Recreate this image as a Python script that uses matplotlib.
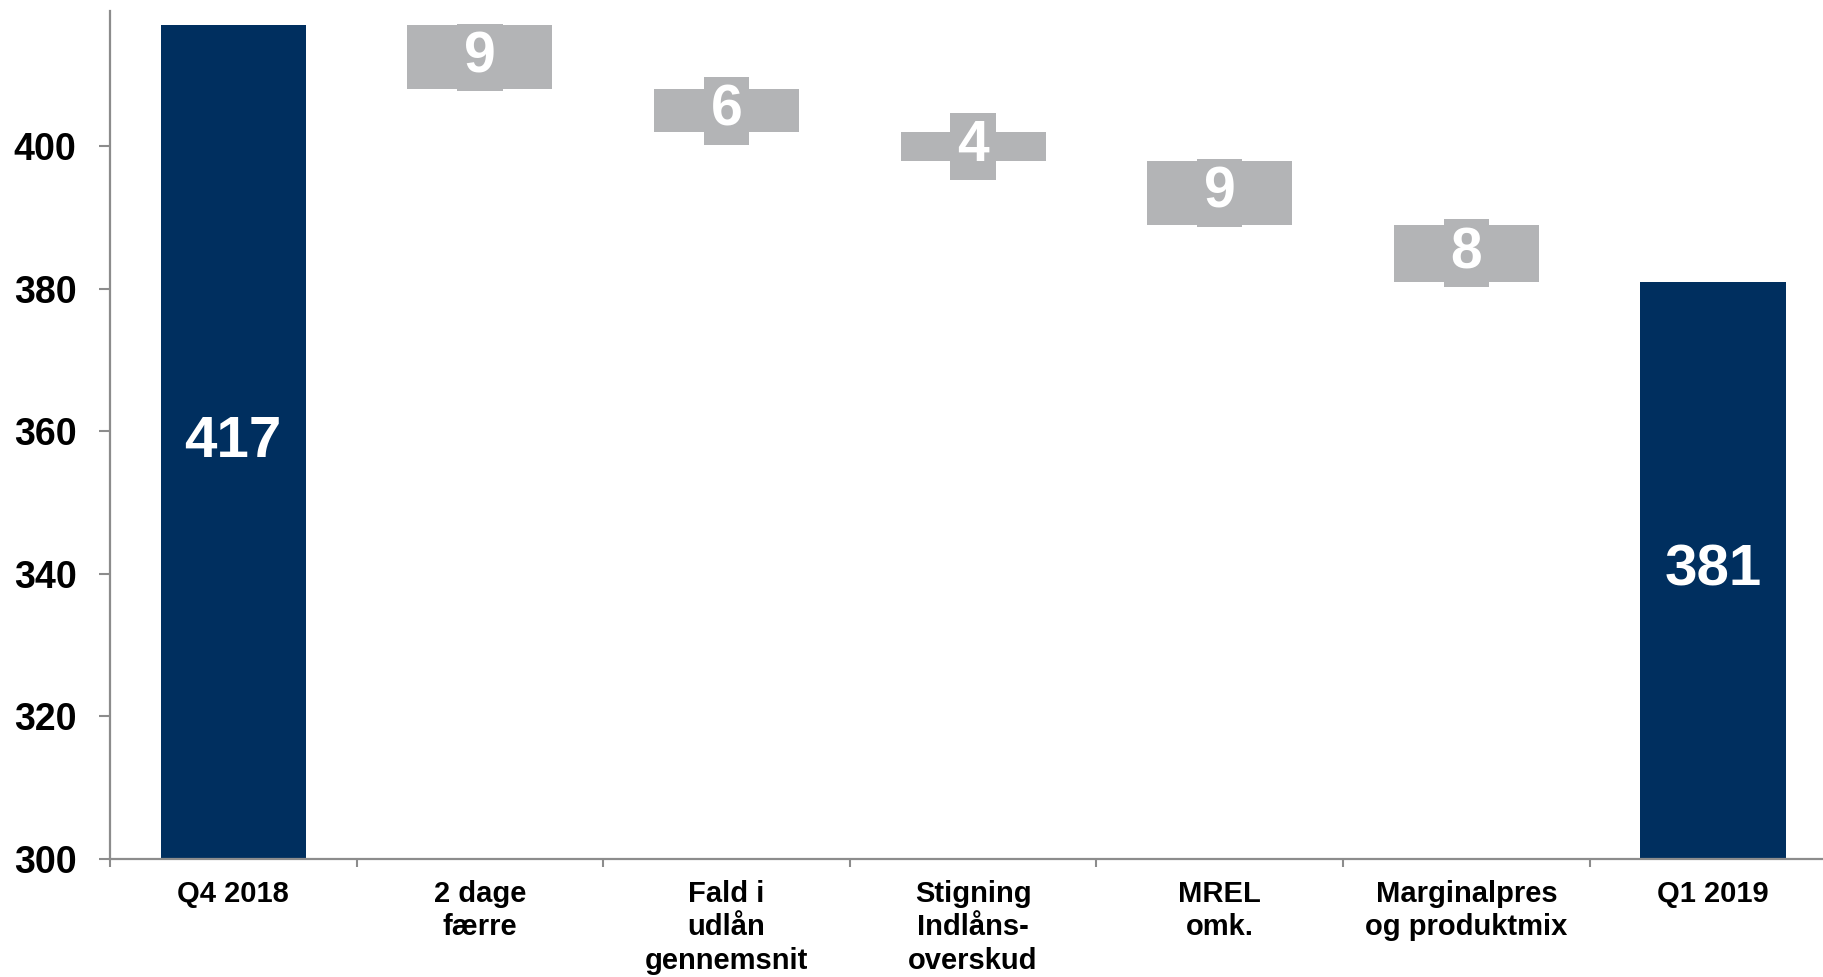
import matplotlib
matplotlib.use("Agg")
import matplotlib.pyplot as plt
from matplotlib.ticker import FixedLocator, NullFormatter

plt.rcParams['font.family'] = ['Liberation Sans', 'DejaVu Sans']
plt.rcParams['font.weight'] = 'bold'

categories = ["Q4 2018", "2 dage\nfærre", "Fald i\nudlån\ngennemsnit",
              "Stigning\nIndlåns-\noverskud", "MREL\nomk.",
              "Marginalpres\nog produktmix", "Q1 2019"]
start_value = 417
changes = [-9, -6, -4, -9, -8]
end_value = 381
y_ticks = [300, 320, 340, 360, 380, 400]

navy = "#002F5F"
gray = "#B3B4B6"
axis_gray = "#8C8C8C"

fig = plt.figure(figsize=(18.23, 9.77), dpi=100)
ax = fig.add_axes([0.0603, 0.1208, 0.947, 0.8679])

base = 300
bar_w = 0.588

# totals
ax.bar(0, start_value - base, bottom=base, width=bar_w, color=navy, zorder=1)
ax.bar(len(categories) - 1, end_value - base, bottom=base, width=bar_w, color=navy, zorder=1)
ax.text(0, (start_value + base) / 2, f"{start_value}", ha="center", va="center",
        color="white", fontsize=42, fontweight="bold", zorder=3)
ax.text(len(categories) - 1, (end_value + base) / 2, f"{end_value}", ha="center", va="center",
        color="white", fontsize=42, fontweight="bold", zorder=3)

# floating deltas
level = start_value
for i, d in enumerate(changes, start=1):
    top = level
    bottom = level + d
    ax.bar(i, top - bottom, bottom=bottom, width=bar_w, color=gray, zorder=1)
    ax.text(i, (top + bottom) / 2, f"{abs(d)}", ha="center", va="center",
            color="white", fontsize=41, fontweight="bold", zorder=3,
            bbox=dict(boxstyle="square,pad=0.12", fc=gray, ec="none"))
    level = bottom

ax.set_xlim(-0.5, len(categories) - 0.5)
ax.set_ylim(300, 419)

for s in ["top", "right"]:
    ax.spines[s].set_visible(False)
for s in ["left", "bottom"]:
    ax.spines[s].set_color(axis_gray)
    ax.spines[s].set_linewidth(1.6)
    ax.spines[s].set_zorder(2.5)

ax.set_yticks(y_ticks)
ax.set_yticklabels([str(v) for v in y_ticks], fontsize=27, fontweight="bold")
ax.tick_params(axis="y", length=8, width=1.5, color=axis_gray, pad=16)

ax.set_xticks(range(len(categories)))
ax.set_xticklabels(categories, fontsize=21, fontweight="bold", linespacing=1.25)
ax.tick_params(axis="x", which="major", length=0, pad=15)
ax.xaxis.set_minor_locator(FixedLocator([i - 0.5 for i in range(len(categories) + 1)]))
ax.xaxis.set_minor_formatter(NullFormatter())
ax.tick_params(axis="x", which="minor", length=6, width=1.5, color=axis_gray)

fig.savefig("out.png", dpi=100, facecolor="white")
